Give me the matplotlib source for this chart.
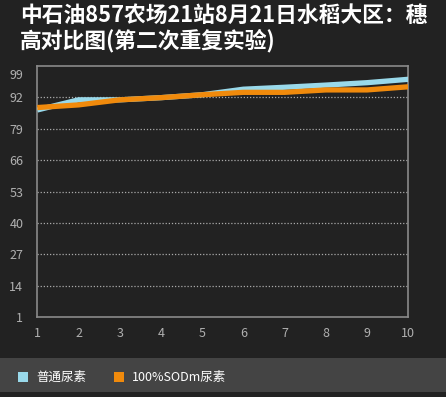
import matplotlib
matplotlib.use("Agg")
from matplotlib import pyplot as plt
from matplotlib.patches import Rectangle

plt.rcParams['font.family'] = ['Noto Sans CJK SC', 'DejaVu Sans']

# chart data
x_vals = [1, 2, 3, 4, 5, 6, 7, 8, 9, 10]
normal_urea = [86.8, 91.0, 91.0, 91.9, 93.1, 95.4, 96.2, 97.1, 98.1, 99.5]
sodm_urea = [87.8, 88.9, 91.0, 91.9, 93.1, 94.1, 94.1, 95.1, 95.1, 96.4]
series_names = ["普通尿素", "100%SODm尿素"]
y_ticks = [1, 14, 27, 40, 53, 66, 79, 92]
title = "中石油857农场21站8月21日水稻大区：穗\n高对比图(第二次重复实验)"

bg = "#222222"
W, H = 446, 397
fig = plt.figure(figsize=(W / 100, H / 100), dpi=100, facecolor=bg)

# plot area in pixels
left, right, top, bottom = 37.3, 408.3, 66, 317.3
ax = fig.add_axes([left / W, 1 - bottom / H, (right - left) / W, (bottom - top) / H])
ax.set_facecolor(bg)

ax.plot(x_vals, normal_urea, color="#99D9EA", linewidth=3.8, solid_capstyle="butt", zorder=3)
ax.plot(x_vals, sodm_urea, color="#F08A0C", linewidth=3.8, solid_capstyle="butt", zorder=4)

ax.set_xlim(1, 10)
ax.set_ylim(1, 105)
ax.set_yticks(y_ticks + [101.5])
ax.set_yticklabels([str(v) for v in y_ticks] + ["99"])
ax.set_xticks(x_vals)
ax.set_xticklabels([str(v) for v in x_vals])

for v in y_ticks[1:]:
    ax.axhline(v, color="#aaaaaa", linestyle=(0, (1, 1.5)), linewidth=0.9, zorder=1)

for s in ax.spines.values():
    s.set_color("#8a8a8a")
    s.set_linewidth(1.2)
ax.tick_params(colors="#b0b0b0", labelsize=9, length=0, pad=7)
ax.tick_params(axis="y", pad=10)

# title
fig.text(20 / W, 1 - 4 / H, title, color="white", fontsize=15.7, fontweight="bold",
         va="top", ha="left", linespacing=1.12)

# legend band
fig.patches.append(Rectangle((0, 1 - 391.7 / H), 1, 34 / H, transform=fig.transFigure,
                             facecolor="#444444", edgecolor="none"))
fig.patches.append(Rectangle((18 / W, 1 - 382 / H), 10 / W, 10 / H, transform=fig.transFigure,
                             facecolor="#99D9EA", edgecolor="none"))
fig.text(36 / W, 1 - 377 / H, series_names[0], color="white", fontsize=9, va="center")
fig.patches.append(Rectangle((114 / W, 1 - 382 / H), 10 / W, 10 / H, transform=fig.transFigure,
                             facecolor="#F08A0C", edgecolor="none"))
fig.text(132 / W, 1 - 377 / H, series_names[1], color="white", fontsize=9, va="center")

fig.savefig("out.png", dpi=100, facecolor=bg)
